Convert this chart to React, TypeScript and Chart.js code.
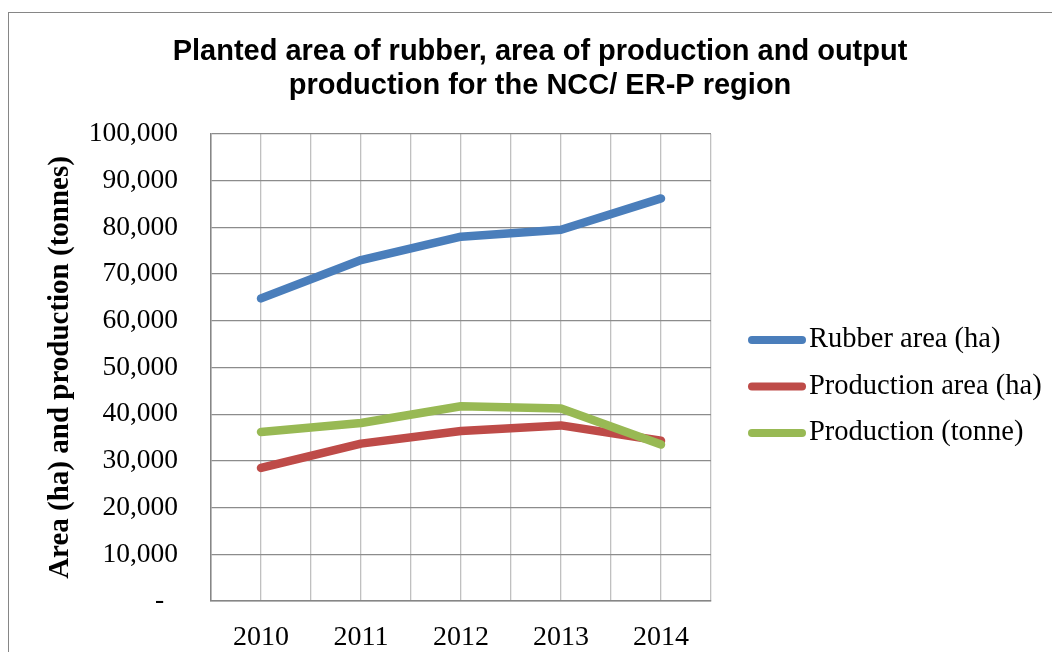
import React, { useEffect, useRef } from "react";
import { Chart, registerables } from "chart.js";

Chart.register(...registerables);

const years = ["2010", "2011", "2012", "2013", "2014"];
const rubberArea = [64800, 73000, 78000, 79500, 86200];
const productionArea = [28500, 33700, 36400, 37600, 34300];
const productionTonne = [36200, 38100, 41700, 41200, 33500];
const seriesLabels = ["Rubber area (ha)", "Production area (ha)", "Production (tonne)"];
const seriesColors = ["#4A7EBB", "#BE4B48", "#98B954"];
const titleLines = [
  "Planted area of rubber, area of production and output",
  "production for the NCC/ ER-P region",
];
const yAxisTitle = "Area (ha) and production (tonnes)";
const yMin = 0;
const yMax = 100000;
const yStep = 10000;

const SERIF = "'Liberation Serif', 'DejaVu Serif', serif";
const SANS = "'Liberation Sans', Arial, sans-serif";

const framePlugin = {
  id: "frame",
  beforeDraw(chart: any) {
    const ctx = chart.ctx;
    ctx.save();
    ctx.fillStyle = "#ffffff";
    ctx.fillRect(0, 0, chart.width, chart.height);
    ctx.strokeStyle = "#868686";
    ctx.lineWidth = 1;
    ctx.strokeRect(0.5, 0.5, chart.width + 20, chart.height + 20);
    ctx.restore();
  },
};

const legendPlugin = {
  id: "customLegend",
  afterDraw(chart: any) {
    const ctx = chart.ctx;
    ctx.save();
    chart.data.datasets.forEach((ds: any, i: number) => {
      const y = 328 + i * 46.5;
      ctx.strokeStyle = ds.borderColor;
      ctx.lineWidth = 8;
      ctx.lineCap = "round";
      ctx.beginPath();
      ctx.moveTo(744, y);
      ctx.lineTo(794, y);
      ctx.stroke();
      ctx.fillStyle = "#000";
      ctx.font = `28.5px ${SERIF}`;
      ctx.textBaseline = "middle";
      ctx.textAlign = "left";
      ctx.fillText(ds.label, 801, y);
    });
    ctx.restore();
  },
};

export default function App() {
  const ref = useRef<HTMLCanvasElement>(null);
  useEffect(() => {
    document.body.style.overflow = "hidden";
    const values = [rubberArea, productionArea, productionTonne];
    const order = [2, 1, 0];
    const chart = new Chart(ref.current!, {
      type: "line",
      data: {
        datasets: values.map((vals, i) => ({
          label: seriesLabels[i],
          data: vals.map((v, j) => ({ x: j, y: v })),
          borderColor: seriesColors[i],
          backgroundColor: seriesColors[i],
          borderWidth: 8.5,
          borderCapStyle: "round",
          borderJoinStyle: "round",
          pointRadius: 0,
          tension: 0,
          order: order[i],
        })),
      },
      options: {
        responsive: false,
        animation: false,
        layout: { padding: { left: 12, right: 0, top: 0, bottom: 0 } },
        plugins: {
          legend: { display: false },
          tooltip: { enabled: false },
          title: {
            display: true,
            text: titleLines,
            color: "#000",
            font: { family: SANS, size: 29, weight: "bold", lineHeight: 1.172 },
            padding: { top: 23, bottom: 31 },
          },
        },
        scales: {
          x: {
            type: "linear",
            min: -0.5,
            max: years.length - 0.5,
            afterBuildTicks(scale: any) {
              const t = [];
              for (let v = -0.5; v <= years.length - 0.5 + 1e-9; v += 0.5) t.push({ value: v });
              scale.ticks = t;
            },
            afterFit(scale: any) {
              scale.height = 51;
            },
            ticks: {
              autoSkip: false,
              maxRotation: 0,
              padding: 20,
              color: "#000",
              font: { family: SERIF, size: 28 },
              callback: (v: any) => (Number.isInteger(v) ? years[v] ?? "" : ""),
            },
            grid: { color: "#C0C0C0", lineWidth: 1.3, drawTicks: false },
            border: { color: "#868686", width: 1.5 },
          },
          y: {
            min: yMin,
            max: yMax,
            afterFit(scale: any) {
              scale.width = 191;
            },
            ticks: {
              stepSize: yStep,
              padding: 33,
              color: "#000",
              font: { family: SERIF, size: 27.5 },
              callback: (v: any) => (v === 0 ? "-  " : Number(v).toLocaleString("en-US")),
            },
            grid: { color: "#8C8C8C", lineWidth: 1.3, drawTicks: false },
            border: { color: "#868686", width: 1.5 },
            title: {
              display: true,
              text: yAxisTitle,
              color: "#000",
              font: { family: SERIF, size: 29, weight: "bold", lineHeight: 1.2 },
              padding: { top: 23, bottom: 0 },
            },
          },
          legendSpace: {
            type: "linear",
            position: "right",
            display: true,
            afterFit(scale: any) {
              scale.width = 349;
            },
            ticks: { display: false },
            grid: { display: false, drawTicks: false },
            border: { display: false },
          },
        },
      },
      plugins: [framePlugin, legendPlugin],
    } as any);
    return () => chart.destroy();
  }, []);
  return (
    <div style={{ paddingTop: 4 }}>
      <div style={{ width: 1052, height: 640, overflow: "hidden" }}>
        <canvas ref={ref} width={1052} height={640} style={{ display: "block", width: 1052, height: 640 }} />
      </div>
    </div>
  );
}
